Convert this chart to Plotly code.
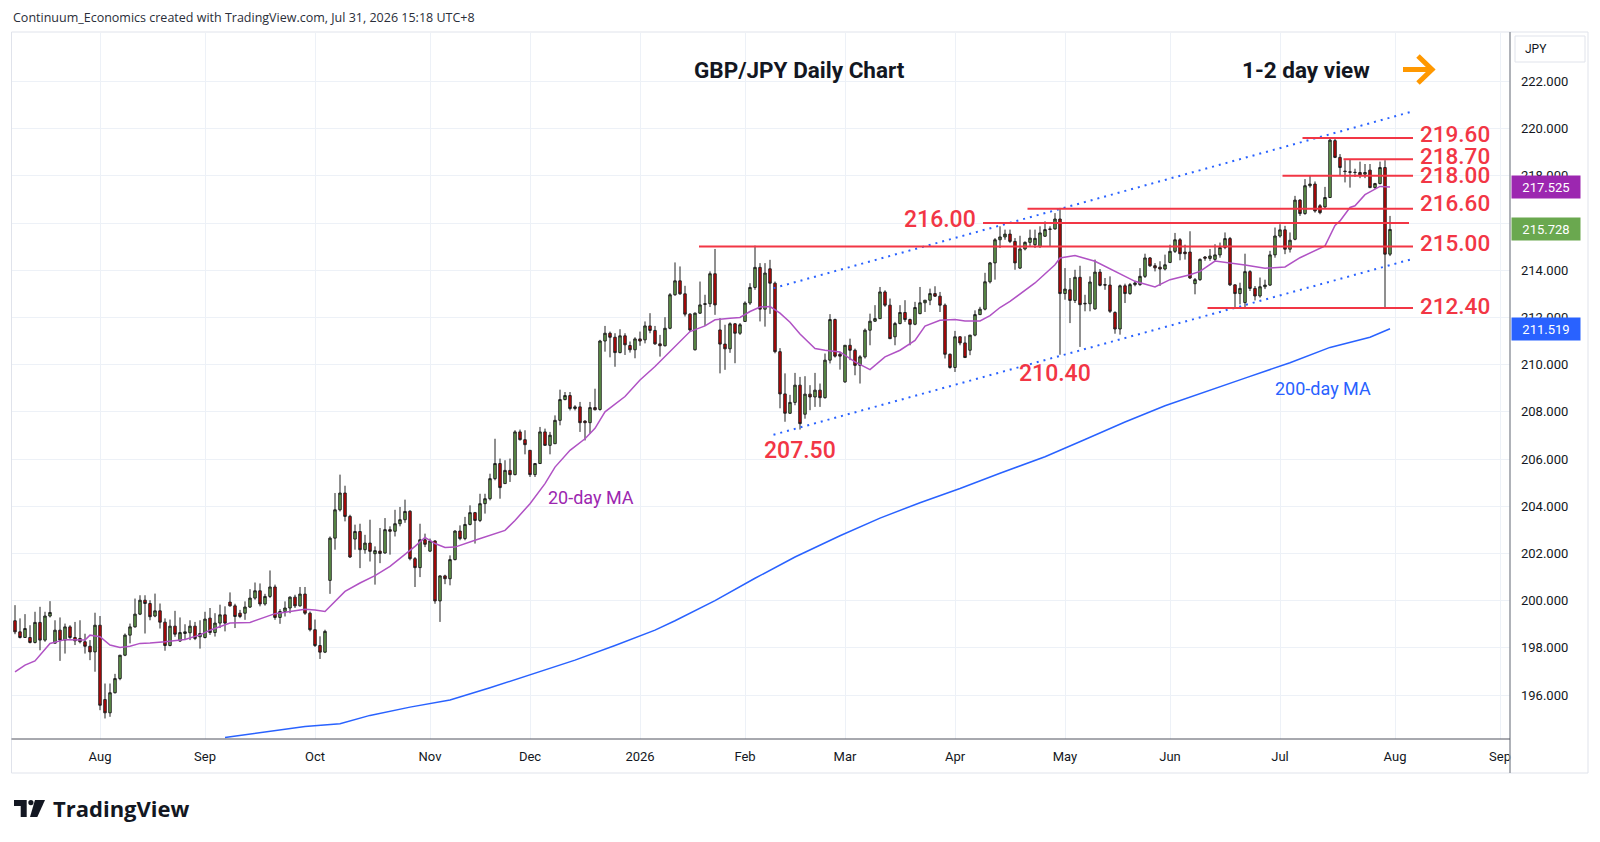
import numpy as np
import pandas as pd
import plotly.graph_objects as go

# GBP/JPY daily candles. Bar index 0 = 2025-08-01, the first bar shown is index -17 (2025-07-09).
FIRST_IDX = -17

open_ = [
    199.15, 198.68, 198.44, 198.44, 198.23, 199.08, 198.33, 199.35, 198.20, 198.75,  # -17
    198.33, 198.89, 198.44, 198.40, 198.26, 198.07, 197.83, 198.96, 195.81, 195.25,  # -7
    196.10, 196.70, 197.69, 198.54, 198.89, 199.43, 200.02, 199.88, 199.35, 199.57,  # 3
    199.09, 198.10, 198.92, 198.29, 198.61, 198.64, 198.92, 198.47, 198.44, 199.26,  # 13
    198.65, 199.05, 199.40, 199.94, 199.78, 199.47, 199.47, 199.73, 200.11, 200.42,  # 23
    199.86, 200.18, 200.58, 199.29, 199.54, 199.69, 200.15, 199.78, 200.28, 199.47,  # 33
    198.77, 198.10, 197.82, 200.86, 202.65, 203.85, 204.56, 203.57, 202.61, 202.93,  # 43
    202.16, 202.44, 201.99, 202.10, 202.02, 203.01, 202.94, 203.26, 203.43, 203.79,  # 53
    201.78, 201.40, 202.58, 202.10, 202.53, 199.99, 201.05, 200.93, 201.74, 202.95,  # 63
    202.63, 203.23, 203.73, 203.40, 204.11, 204.32, 205.17, 205.81, 204.96, 205.52,  # 73
    205.34, 207.15, 206.82, 206.37, 205.34, 205.81, 207.15, 206.58, 206.65, 207.64,  # 83
    208.52, 208.69, 208.14, 208.21, 207.61, 207.54, 208.18, 208.10, 211.00, 211.33,  # 93
    211.16, 210.51, 211.22, 210.81, 210.63, 211.09, 211.05, 211.64, 211.45, 210.88,  # 103
    210.80, 211.54, 212.96, 213.55, 213.00, 212.14, 210.63, 212.18, 212.55, 212.58,  # 113
    213.85, 211.47, 210.87, 210.67, 211.73, 211.33, 211.83, 212.61, 213.27, 214.12,  # 123
    212.35, 214.06, 213.45, 210.55, 208.76, 207.94, 208.40, 209.13, 207.90, 208.75,  # 133
    208.63, 208.92, 208.60, 210.19, 211.91, 210.44, 209.27, 210.82, 210.61, 209.97,  # 143
    210.33, 211.46, 211.84, 211.95, 213.08, 212.52, 211.18, 211.74, 212.21, 211.91,  # 153
    211.71, 212.16, 212.62, 212.73, 213.01, 212.90, 212.52, 210.44, 209.88, 211.18,  # 163
    210.92, 210.61, 211.25, 212.12, 212.35, 213.51, 214.31, 215.29, 215.41, 215.53,  # 173
    215.22, 214.09, 214.90, 215.18, 215.08, 215.01, 215.44, 215.75, 215.75, 216.17,  # 183
    213.01, 213.17, 212.72, 213.70, 212.60, 212.58, 212.36, 213.92, 213.39, 213.37,  # 193
    212.21, 211.51, 213.34, 213.01, 213.39, 213.39, 213.74, 214.52, 214.19, 214.13,  # 203
    214.05, 214.33, 214.80, 215.29, 214.77, 214.77, 213.43, 213.60, 214.56, 214.50,  # 213
    214.46, 214.65, 214.96, 215.34, 213.38, 213.01, 212.63, 213.94, 213.23, 212.91,  # 223
    213.30, 213.37, 214.65, 215.45, 215.71, 214.89, 215.31, 216.97, 216.40, 217.58,  # 233
    217.65, 216.73, 216.68, 217.08, 219.49, 218.78, 218.20, 218.17, 218.15, 218.14,  # 243
    218.07, 218.24, 217.50, 217.67, 218.35, 214.68,  # 253
]
high = [
    199.81, 199.25, 199.43, 198.96, 199.53, 199.74, 199.53, 199.98, 199.17, 199.29,
    199.03, 198.96, 199.10, 199.17, 198.60, 198.33, 199.49, 199.35, 196.49, 196.49,
    196.90, 197.69, 198.61, 199.03, 200.09, 200.23, 200.23, 200.02, 200.30, 199.88,
    199.25, 199.20, 199.57, 199.29, 199.00, 199.17, 199.10, 199.17, 199.53, 199.69,
    199.47, 199.83, 199.76, 200.35, 199.87, 199.61, 199.97, 200.49, 200.77, 200.73,
    200.29, 201.28, 200.68, 199.64, 199.97, 200.18, 200.25, 200.58, 200.58, 199.54,
    199.20, 198.49, 198.77, 202.72, 204.56, 205.34, 204.87, 203.64, 203.22, 203.26,
    202.79, 203.43, 202.30, 203.08, 203.50, 203.15, 203.85, 203.97, 204.28, 203.83,
    201.85, 203.26, 202.84, 202.63, 202.56, 201.07, 201.10, 201.92, 202.98, 203.19,
    203.55, 204.04, 203.76, 204.53, 204.53, 205.38, 206.86, 206.02, 205.95, 206.02,
    207.22, 207.25, 207.22, 206.37, 205.83, 207.36, 207.29, 207.15, 207.85, 208.94,
    208.84, 208.84, 208.28, 208.42, 207.64, 208.42, 208.98, 211.05, 211.64, 211.40,
    211.33, 211.50, 211.33, 210.98, 211.16, 211.40, 211.83, 212.18, 211.64, 211.26,
    212.01, 213.03, 214.33, 214.16, 213.34, 212.18, 212.21, 213.52, 212.96, 213.95,
    214.90, 211.97, 211.69, 211.79, 211.76, 211.76, 212.68, 213.45, 215.04, 214.30,
    214.30, 214.44, 213.52, 210.70, 209.63, 208.72, 209.65, 209.48, 209.51, 209.13,
    209.65, 209.20, 210.47, 212.14, 211.95, 210.54, 210.82, 211.10, 210.68, 210.40,
    211.53, 212.16, 212.52, 213.29, 213.15, 212.80, 211.81, 212.52, 212.73, 211.95,
    212.66, 213.29, 212.73, 213.22, 213.32, 213.08, 212.59, 210.47, 211.43, 211.20,
    211.20, 211.25, 212.30, 212.45, 213.89, 214.35, 215.36, 215.86, 215.72, 215.72,
    215.36, 215.46, 215.22, 215.72, 215.72, 215.86, 216.07, 215.86, 216.42, 216.64,
    214.09, 213.67, 214.02, 214.19, 212.96, 213.74, 214.45, 214.05, 213.67, 213.74,
    212.26, 213.39, 213.43, 213.46, 213.55, 214.09, 214.70, 214.56, 214.30, 214.38,
    214.66, 215.08, 215.58, 215.36, 215.08, 215.65, 213.67, 214.50, 214.60, 214.90,
    215.10, 215.17, 215.60, 215.41, 213.40, 213.47, 214.70, 214.00, 213.33, 213.69,
    213.60, 214.82, 215.81, 215.95, 215.88, 215.60, 217.15, 217.01, 217.86, 218.00,
    217.76, 216.80, 217.53, 219.60, 219.60, 218.92, 218.66, 218.70, 218.30, 218.60,
    218.50, 218.50, 217.70, 218.60, 218.66, 216.30,
]
low = [
    198.58, 198.40, 198.44, 198.19, 198.19, 197.90, 198.26, 199.29, 198.19, 197.45,
    197.76, 198.38, 198.12, 198.19, 197.76, 197.48, 196.99, 195.36, 195.01, 195.08,
    196.07, 196.63, 197.65, 198.19, 198.86, 199.39, 198.61, 199.17, 199.30, 198.82,
    197.88, 198.07, 198.47, 198.26, 198.33, 198.33, 198.33, 197.97, 198.40, 198.55,
    198.48, 198.84, 198.70, 199.75, 198.84, 199.26, 199.19, 199.69, 200.04, 199.76,
    199.79, 200.11, 199.19, 199.02, 199.33, 199.47, 199.69, 199.75, 199.40, 198.70,
    198.04, 197.53, 197.78, 200.29, 202.16, 203.78, 203.36, 201.81, 202.16, 201.38,
    201.99, 201.66, 200.68, 201.59, 201.99, 201.95, 202.72, 203.15, 203.30, 201.71,
    200.58, 201.00, 202.27, 202.06, 199.87, 199.10, 200.70, 200.65, 201.71, 202.56,
    202.56, 203.19, 202.42, 203.33, 203.69, 204.25, 205.10, 204.32, 204.96, 205.03,
    205.31, 206.79, 206.20, 205.24, 205.24, 205.81, 206.58, 206.20, 206.65, 207.43,
    208.49, 208.06, 208.06, 207.15, 206.79, 207.08, 208.06, 208.05, 210.55, 210.31,
    209.91, 210.48, 210.41, 210.51, 210.27, 210.80, 210.90, 211.33, 210.84, 210.34,
    210.77, 211.50, 212.92, 212.96, 212.04, 211.40, 210.60, 212.15, 211.64, 212.44,
    212.11, 209.63, 209.78, 210.50, 210.06, 211.26, 211.83, 212.53, 213.17, 211.83,
    211.61, 212.15, 210.48, 208.15, 207.58, 207.91, 208.28, 207.25, 207.71, 208.07,
    208.21, 208.21, 208.56, 210.05, 210.30, 209.79, 209.23, 210.19, 209.55, 209.20,
    210.26, 210.82, 211.81, 211.95, 212.45, 211.10, 210.82, 211.71, 211.81, 210.82,
    211.67, 212.14, 212.23, 212.52, 212.87, 212.23, 210.26, 209.83, 209.69, 210.82,
    210.30, 210.40, 211.20, 212.10, 212.30, 213.44, 213.60, 214.94, 215.29, 215.15,
    214.02, 214.05, 214.84, 215.01, 214.94, 214.94, 215.41, 215.01, 215.72, 210.42,
    212.75, 211.76, 212.61, 210.75, 212.26, 212.26, 212.33, 213.32, 213.17, 212.19,
    211.31, 211.27, 212.61, 212.96, 213.32, 213.34, 213.67, 214.14, 213.95, 213.34,
    213.99, 214.30, 214.73, 214.42, 214.45, 213.63, 212.98, 213.55, 214.40, 214.40,
    214.39, 214.53, 214.89, 213.33, 212.42, 212.55, 212.41, 213.12, 212.72, 212.84,
    213.20, 213.33, 214.53, 215.38, 214.68, 214.75, 215.27, 216.30, 216.35, 217.50,
    216.44, 216.37, 216.60, 217.06, 218.75, 218.00, 217.72, 217.50, 217.95, 217.90,
    217.90, 217.48, 217.45, 217.64, 212.40, 214.60,
]
close = [
    198.68, 198.44, 198.82, 198.23, 199.08, 198.33, 199.35, 199.50, 198.75, 198.33,
    198.89, 198.44, 198.30, 198.26, 198.07, 197.83, 198.96, 195.57, 195.25, 196.10,
    196.70, 197.69, 198.54, 198.89, 199.43, 200.02, 199.88, 199.32, 199.57, 199.09,
    198.10, 198.92, 198.58, 198.65, 198.68, 198.92, 198.40, 198.61, 199.22, 198.65,
    199.05, 199.40, 199.05, 199.78, 199.33, 199.33, 199.73, 200.11, 200.42, 199.86,
    200.18, 200.58, 199.29, 199.54, 199.69, 200.15, 199.78, 200.28, 199.47, 198.77,
    198.10, 197.82, 198.70, 202.65, 203.85, 204.56, 203.57, 201.85, 202.93, 202.16,
    202.44, 202.09, 202.12, 202.00, 203.01, 202.94, 203.26, 203.43, 203.78, 201.78,
    201.40, 202.58, 202.39, 202.53, 199.99, 201.05, 200.93, 201.74, 202.95, 202.63,
    203.23, 203.73, 203.40, 204.11, 204.32, 205.17, 205.81, 204.79, 205.52, 205.34,
    207.15, 206.82, 206.61, 205.34, 205.81, 207.15, 206.58, 207.01, 207.64, 208.52,
    208.69, 208.14, 208.21, 207.54, 207.54, 208.18, 208.09, 211.00, 211.33, 211.16,
    210.51, 211.22, 210.84, 210.63, 211.09, 211.00, 211.64, 211.45, 210.88, 210.80,
    211.54, 212.96, 213.55, 213.00, 212.14, 211.47, 212.18, 212.53, 212.58, 213.85,
    212.53, 210.87, 210.67, 211.73, 211.33, 211.69, 212.61, 213.27, 214.12, 212.35,
    213.88, 213.45, 210.55, 208.76, 207.94, 208.40, 209.13, 207.50, 208.75, 208.63,
    208.92, 208.60, 210.19, 211.91, 210.36, 210.36, 210.82, 210.61, 209.97, 210.33,
    211.46, 211.84, 211.95, 213.08, 212.52, 211.10, 211.74, 212.21, 211.91, 211.71,
    212.42, 212.62, 212.73, 213.01, 212.90, 212.52, 210.44, 209.88, 211.18, 210.92,
    210.30, 211.25, 212.12, 212.35, 213.51, 214.31, 215.29, 215.41, 215.53, 215.22,
    214.31, 214.90, 215.18, 215.36, 215.35, 215.58, 215.72, 215.73, 216.17, 213.01,
    213.20, 212.72, 213.70, 212.54, 212.58, 213.50, 213.92, 213.36, 213.37, 212.26,
    211.51, 213.34, 213.01, 213.39, 213.46, 213.74, 214.52, 214.19, 214.10, 214.05,
    214.23, 214.80, 215.29, 214.70, 214.70, 213.67, 213.60, 214.46, 214.51, 214.60,
    214.65, 214.96, 215.34, 213.38, 213.01, 213.23, 213.94, 213.23, 212.91, 213.30,
    213.37, 214.65, 215.45, 215.71, 214.89, 215.27, 216.97, 216.40, 217.58, 217.65,
    216.51, 216.44, 217.08, 219.51, 218.78, 218.35, 218.18, 218.15, 218.14, 218.04,
    218.14, 217.50, 217.67, 218.35, 214.68, 215.728,
]

# moving averages (bar index, value)
ma20_idx = [-17, -15, -13, -10, -7, -3, -2, 0, 2, 4, 6, 8, 10, 13, 17, 20, 22, 26, 30, 35,
            41, 43, 45, 47, 49, 52, 55, 58, 61, 63, 65, 67, 69, 71, 75, 78, 81, 83, 86, 89,
            91, 94, 97, 99, 101, 105, 108, 111, 115, 118, 121, 123, 126, 128, 130, 132, 134, 136, 138, 140,
            143, 145, 148, 151, 154, 155, 157, 160, 163, 165, 168, 171, 173, 176, 178, 180, 182, 187, 191, 192,
            195, 199, 203, 207, 211, 214, 218, 220, 223, 226, 229, 233, 237, 240, 243, 245, 247, 248, 250, 251,
            253, 256, 258]
ma20_val = [196.98, 197.27, 197.45, 198.19, 198.35, 198.33, 198.54, 198.47, 198.12, 198.02,
            198.07, 198.19, 198.21, 198.26, 198.36, 198.55, 198.75, 199.05, 199.08, 199.45,
            199.64, 199.61, 199.54, 199.97, 200.39, 200.75, 201.06, 201.45, 201.95, 202.30,
            202.68, 202.42, 202.25, 202.27, 202.56, 202.77, 202.98, 203.40, 204.11, 204.96,
            205.66, 206.37, 206.86, 207.30, 208.00, 208.65, 209.35, 209.92, 210.77, 211.40,
            211.64, 211.90, 211.97, 212.00, 212.25, 212.44, 212.46, 212.18, 211.80, 211.30,
            210.68, 210.61, 210.54, 210.12, 209.79, 209.97, 210.33, 210.61, 211.03, 211.63,
            211.88, 211.91, 211.85, 211.85, 212.08, 212.42, 212.68, 213.46, 214.23, 214.52,
            214.62, 214.38, 213.95, 213.53, 213.29, 213.60, 213.81, 213.95, 214.39, 214.32,
            214.22, 214.08, 214.14, 214.53, 214.82, 215.03, 215.90, 216.09, 216.66, 216.73,
            217.20, 217.55, 217.525]

ma200_idx = [25, 33, 41, 48, 54, 62, 70, 78, 86, 95, 103, 111, 115, 123, 131, 139, 148, 156, 164, 172,
             180, 189, 197, 205, 213, 221, 229, 238, 246, 254, 258]
ma200_val = [194.20, 194.45, 194.67, 194.79, 195.14, 195.49, 195.79, 196.31, 196.87, 197.48,
             198.10, 198.75, 199.15, 200.00, 200.95, 201.85, 202.75, 203.50, 204.15, 204.75,
             205.40, 206.10, 206.83, 207.57, 208.26, 208.83, 209.43, 210.08, 210.73, 211.16, 211.519]

# support / resistance levels drawn on the chart
level_val = [219.60, 218.70, 218.00, 216.60, 216.00, 215.00, 212.40]
level_start = [240.5, 248.7, 236.5, 185.5, 176.6, 119.8, 221.5]
level_end = [262.6, 262.6, 262.6, 262.6, 261.8, 262.6, 262.6]
level_tag_right = [True, True, True, True, False, True, True]
level_tag_shift = [4, 3, 1, 6, 0, 4, 2]   # pixel nudges of the right-hand labels

# rising channel (dotted)
chan_up_idx = [134.7, 262.4]
chan_up_val = [213.24, 220.72]
chan_lo_idx = [134.7, 262.2]
chan_lo_val = [207.03, 214.46]

# swing-low labels
swing_txt = ["207.50", "210.40"]
swing_idx = [140.0, 191.0]
swing_val = [206.38, 209.64]

# last-value tags on the price scale
tag_val = [217.525, 215.728, 211.519]
tag_color = ["#9c27b0", "#6aa84f", "#2962ff"]

month_ticks = ["2025-08-01", "2025-09-01", "2025-10-01", "2025-11-03", "2025-12-01", "2026-01-02",
               "2026-02-02", "2026-03-02", "2026-04-01", "2026-05-01", "2026-06-01", "2026-07-01",
               "2026-08-03", "2026-09-01"]
month_text = ["Aug", "Sep", "Oct", "Nov", "Dec", "2026", "Feb", "Mar", "Apr", "May", "Jun", "Jul", "Aug", "Sep"]
price_ticks = list(range(196, 223, 2))

assert len(open_) == len(high) == len(low) == len(close) == 276

# trading calendar (weekdays, no bars on Christmas / New Year)
days = pd.bdate_range("2025-07-09", "2026-09-30")
days = days[~days.isin(pd.to_datetime(["2025-12-25", "2026-01-01"]))]


def at(i):
    """bar index (can be fractional) -> timestamp on the trading axis"""
    k = i - FIRST_IDX
    b = int(np.floor(k))
    return days[b] + pd.Timedelta(days=k - b)


# plot area in pixels: x 12..1510, y 33..739
def P(px, py):
    return (px - 12) / 1498, (739 - py) / 706


RED = "#f23645"
FONT = "Roboto"

fig = go.Figure()

fig.add_trace(go.Candlestick(
    x=days[:len(close)], open=open_, high=high, low=low, close=close,
    increasing=dict(fillcolor="#6aa84f", line=dict(color="#202020", width=1)),
    decreasing=dict(fillcolor="#cc0000", line=dict(color="#202020", width=1)),
    whiskerwidth=0, showlegend=False, hoverinfo="skip",
))

fig.add_trace(go.Scatter(x=[at(i) for i in ma20_idx], y=ma20_val, mode="lines",
                         line=dict(color="#b052c4", width=1.5), showlegend=False, hoverinfo="skip"))
fig.add_trace(go.Scatter(x=[at(i) for i in ma200_idx], y=ma200_val, mode="lines",
                         line=dict(color="#2962ff", width=1.5), showlegend=False, hoverinfo="skip"))

for xs, ys in [(chan_up_idx, chan_up_val), (chan_lo_idx, chan_lo_val)]:
    fig.add_trace(go.Scatter(x=[at(i) for i in xs], y=ys, mode="lines",
                             line=dict(color="#2962ff", width=2, dash="2px,5px"),
                             showlegend=False, hoverinfo="skip"))

for v, s, e in zip(level_val, level_start, level_end):
    fig.add_trace(go.Scatter(x=[at(s), at(e)], y=[v, v], mode="lines",
                             line=dict(color=RED, width=2), showlegend=False, hoverinfo="skip"))

ann = []
for v, right, sh in zip(level_val, level_tag_right, level_tag_shift):
    if right:
        ann.append(dict(x=at(263.6), y=v, xref="x", yref="y", text=f"{v:.2f}", showarrow=False,
                        xanchor="left", yanchor="middle", yshift=sh,
                        font=dict(family=FONT, size=22.5, color=RED, weight=500)))
ann.append(dict(x=at(175.6), y=216.13, xref="x", yref="y", text="216.00", showarrow=False,
                xanchor="right", yanchor="middle", font=dict(family=FONT, size=23, color=RED, weight=500)))
for t, i, v in zip(swing_txt, swing_idx, swing_val):
    ann.append(dict(x=at(i), y=v, xref="x", yref="y", text=t, showarrow=False,
                    xanchor="center", yanchor="middle", font=dict(family=FONT, size=23, color=RED, weight=500)))

ann.append(dict(x=at(98.2), y=204.39, xref="x", yref="y", text="20-day MA", showarrow=False,
                xanchor="center", yanchor="middle", font=dict(family=FONT, size=18, color="#9c27b0")))
ann.append(dict(x=at(244.6), y=209.01, xref="x", yref="y", text="200-day MA", showarrow=False,
                xanchor="center", yanchor="middle", font=dict(family=FONT, size=18, color="#2962ff")))

px_, py_ = P(799, 70)
ann.append(dict(x=px_, y=py_, xref="paper", yref="paper", xanchor="center", yanchor="middle",
                text="<b>GBP/JPY Daily Chart</b>", showarrow=False,
                font=dict(family=FONT, size=22.5, color="#131722")))
px_, py_ = P(1306, 70)
ann.append(dict(x=px_, y=py_, xref="paper", yref="paper", xanchor="center", yanchor="middle",
                text="<b>1-2 day view</b>", showarrow=False,
                font=dict(family=FONT, size=22.5, color="#131722")))

px_, py_ = P(11, 18)
ann.append(dict(x=px_, y=py_, xref="paper", yref="paper", xanchor="left", yanchor="middle", showarrow=False,
                text="Continuum_Economics created with TradingView.com, Jul 31, 2026 15:18 UTC+8",
                font=dict(family="Open Sans", size=12.5, color="#2a2e39")))

px_, py_ = P(1523, 49)
ann.append(dict(x=px_, y=py_, xref="paper", yref="paper", xanchor="left", yanchor="middle", showarrow=False,
                text="JPY", font=dict(family=FONT, size=12, color="#131722")))

for v, c in zip(tag_val, tag_color):
    ann.append(dict(x=1, y=v, xref="paper", yref="y", xanchor="left", yanchor="middle", xshift=1,
                    showarrow=False, text=f"{v:.3f}", bgcolor=c, width=64, height=18, borderpad=2,
                    font=dict(family=FONT, size=13, color="white")))

px_, py_ = P(51, 808)
ann.append(dict(x=px_, y=py_, xref="paper", yref="paper", xanchor="left", yanchor="middle", showarrow=False,
                text="<b>TradingView</b>", font=dict(family="Open Sans", size=22, color="#131722")))


def path(pts, close_path=False):
    s = "M " + " L ".join("{:.5f},{:.5f}".format(*P(a, b)) for a, b in pts)
    return s + (" Z" if close_path else "")


shapes = []
# chart frame, price-scale divider and time-axis line
x0, y0 = P(11.5, 32)
x1, y1 = P(1588, 773)
shapes.append(dict(type="rect", xref="paper", yref="paper", x0=x0, y0=y0, x1=x1, y1=y1,
                   line=dict(color="#e0e3eb", width=1)))
shapes.append(dict(type="line", xref="paper", yref="paper", x0=1, x1=1, y0=y0, y1=y1,
                   line=dict(color="#9598a1", width=1.5)))
shapes.append(dict(type="line", xref="paper", yref="paper", x0=x0, x1=1, y0=0, y1=0,
                   line=dict(color="#50535e", width=1)))
# JPY box
bx0, by0 = P(1515, 36)
bx1, by1 = P(1585, 62)
shapes.append(dict(type="rect", xref="paper", yref="paper", x0=bx0, y0=by0, x1=bx1, y1=by1,
                   line=dict(color="#e0e3eb", width=1)))
# orange arrow
shapes.append(dict(type="path", xref="paper", yref="paper", path=path([(1403, 69.5), (1430, 69.5)]),
                   line=dict(color="#ff9800", width=5)))
shapes.append(dict(type="path", xref="paper", yref="paper",
                   path=path([(1418, 56), (1432, 69.5), (1418, 83)]),
                   line=dict(color="#ff9800", width=5)))
# TradingView logo
shapes.append(dict(type="path", xref="paper", yref="paper", fillcolor="#131722", line=dict(width=0),
                   path=path([(14, 800), (26.7, 800), (26.7, 817), (20.7, 817), (20.7, 806), (14, 806)], True)))
cx0, cy0 = P(28.3, 800)
cx1, cy1 = P(33.5, 805.2)
shapes.append(dict(type="circle", xref="paper", yref="paper", x0=cx0, y0=cy0, x1=cx1, y1=cy1,
                   fillcolor="#131722", line=dict(width=0)))
shapes.append(dict(type="path", xref="paper", yref="paper", fillcolor="#131722", line=dict(width=0),
                   path=path([(35, 800), (45, 800), (37.3, 817), (30, 817)], True)))

fig.update_layout(
    width=1600, height=842,
    margin=dict(l=12, r=90, t=33, b=103),
    paper_bgcolor="white", plot_bgcolor="white",
    showlegend=False,
    annotations=ann, shapes=shapes,
    xaxis=dict(
        type="date",
        range=[days[0] - pd.Timedelta(hours=14.4), at(282)],
        rangebreaks=[dict(bounds=["sat", "mon"]), dict(values=["2025-12-25", "2026-01-01"])],
        tickvals=month_ticks, ticktext=month_text,
        showgrid=True, gridcolor="#edf1f7", gridwidth=1,
        zeroline=False, showline=False, ticks="",
        rangeslider=dict(visible=False),
        tickfont=dict(family=FONT, size=13, color="#131722"),
        ticklabelstandoff=8, automargin=False, fixedrange=True,
    ),
    yaxis=dict(
        side="right", range=[194.14, 224.05],
        tickvals=price_ticks, tickformat=".3f",
        showgrid=True, gridcolor="#edf1f7", gridwidth=1,
        zeroline=False, showline=False, ticks="",
        tickfont=dict(family=FONT, size=13, color="#131722"),
        ticklabelstandoff=10, automargin=False, fixedrange=True,
    ),
)

fig.write_html("out.html", config={"displayModeBar": False},
               post_script="document.body.style.margin='0';document.body.style.overflow='hidden';")
